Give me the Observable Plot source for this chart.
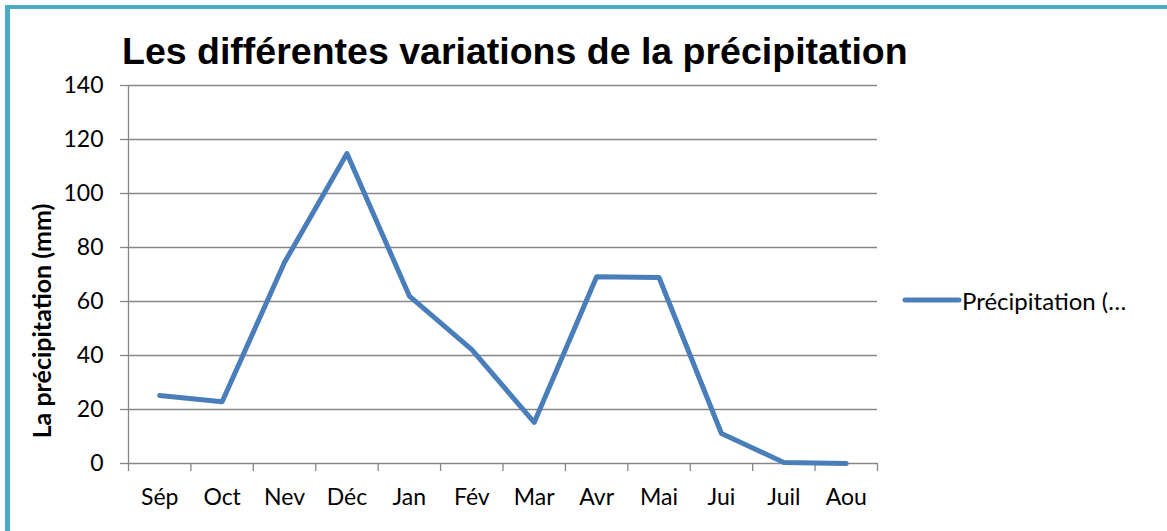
<!DOCTYPE html>
<html>
<head>
<meta charset="utf-8">
<script src="https://cdn.jsdelivr.net/npm/d3@7"></script>
<script src="https://cdn.jsdelivr.net/npm/@observablehq/plot@0.6"></script>
<style>
  html, body { margin: 0; padding: 0; background: #fff; }
  #wrap { position: relative; width: 1167px; height: 531px; overflow: hidden; background: #fff; }
  #bt { position: absolute; left: 5px; top: 5px; width: 1162px; height: 4px; background: #4BACC6; }
  #bl { position: absolute; left: 5px; top: 5px; width: 5px; height: 526px; background: #4BACC6; }
  #title { position: absolute; left: 122px; top: 33px; font: bold 37.5px "Liberation Sans", Arial, sans-serif; line-height: 37px; white-space: nowrap; color: #000; }
  #ylab { position: absolute; left: 41px; top: 321px; transform: translate(-50%, -50%) rotate(-90deg); font: bold 25px Lato, sans-serif; white-space: nowrap; color: #000; line-height: 25px; }
  #legend { position: absolute; left: 902px; top: 287px; height: 26px; display: flex; align-items: center; font: 24px Lato, sans-serif; color: #000; white-space: nowrap; }
  #chart { position: absolute; left: 0; top: 0; }
</style>
</head>
<body>
<div id="wrap">
  <div id="chart"></div>
  <div id="bt"></div>
  <div id="bl"></div>
  <div id="title">Les différentes variations de la précipitation</div>
  <div id="ylab">La précipitation (mm)</div>
  <div id="legend"><svg width="60" height="26"><line x1="3" y1="13" x2="57" y2="13" stroke="#4A7EBB" stroke-width="5" stroke-linecap="round"/></svg><span id="legtext">Précipitation (…</span></div>
</div>
<script>
const months = ["Sép", "Oct", "Nev", "Déc", "Jan", "Fév", "Mar", "Avr", "Mai", "Jui", "Juil", "Aou"];
const precipitation = [25.2, 22.9, 74.5, 114.8, 62.0, 42.2, 15.2, 69.2, 68.9, 11.1, 0.4, 0.0];
const yTicks = [0, 20, 40, 60, 80, 100, 120, 140];

const data = months.map((m, i) => ({i, month: m, value: precipitation[i]}));
const bandEdges = d3.range(months.length + 1).map(k => k - 0.5);
const centers = d3.range(months.length);

const chart = Plot.plot({
  width: 1167,
  height: 531,
  marginLeft: 128,
  marginRight: 290,
  marginTop: 85,
  marginBottom: 68,
  x: {domain: [-0.5, months.length - 0.5]},
  y: {domain: [0, 140]},
  style: {fontFamily: "Lato, sans-serif", fontSize: "23px", color: "#000", background: "transparent"},
  marks: [
    Plot.gridY(yTicks, {stroke: "#868686", strokeOpacity: 1, strokeWidth: 1.3}),
    Plot.axisY(yTicks, {tickSize: 8, tickPadding: 17, stroke: "#868686", strokeWidth: 1.3, strokeOpacity: 1, label: null, fontSize: 23, fill: "#000"}),
    Plot.ruleX([-0.5], {stroke: "#868686", strokeWidth: 1.3}),
    Plot.axisX(bandEdges, {tickSize: 8, tickFormat: () => "", stroke: "#868686", strokeWidth: 1.3, strokeOpacity: 1, label: null}),
    Plot.axisX(centers, {tickSize: 0, tickPadding: 25, tickFormat: i => months[i], label: null, fontSize: 23, fill: "#000"}),
    Plot.line(data, {x: "i", y: "value", stroke: "#4A7EBB", strokeWidth: 5, strokeLinecap: "round", strokeLinejoin: "round"})
  ]
});
document.getElementById("chart").appendChild(chart);
</script>
</body>
</html>
